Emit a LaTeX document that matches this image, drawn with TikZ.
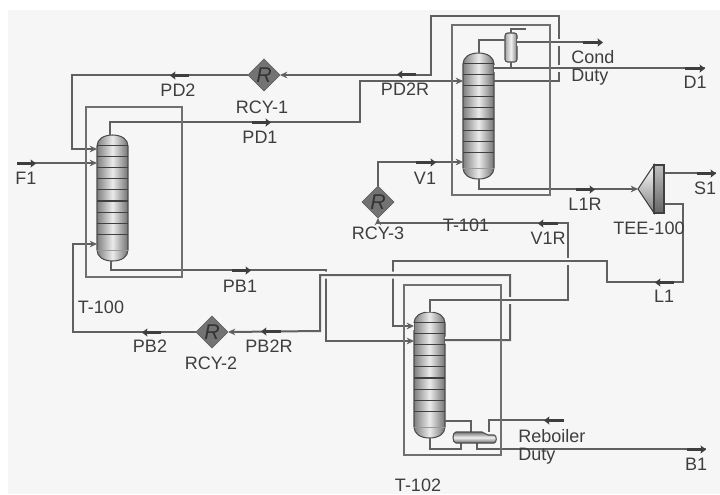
\documentclass[tikz,border=0pt]{standalone}
\usepackage{fontspec}
\setmainfont{Liberation Sans}
\usetikzlibrary{arrows.meta, shapes.geometric}
\definecolor{paper}{RGB}{246,246,246}
\definecolor{pipe}{RGB}{96,96,96}
\definecolor{inkgray}{RGB}{62,62,62}

\begin{document}
\begin{tikzpicture}[
    x=0.75pt, y=-0.75pt,
    font=\fontsize{13.5}{13.5}\selectfont,
    stream/.style={draw=pipe, line width=1.5pt},
    feed/.style={stream, -{Stealth[length=5.5pt, width=5pt]}},
    halo/.style={preaction={draw=paper, line width=5.25pt, -}},
    flowtag/.style={draw=inkgray, line width=2.2pt, -{Stealth[length=4pt, width=6pt, inset=0.5pt]}},
    wrapbox/.style={draw=pipe!90, line width=1.5pt},
    tray/.style={draw=black!75, line width=0.8pt},
    hull/.style={draw=black!70, line width=0.8pt, left color=black!50, right color=black!55, middle color=black!8},
    towernode/.style={inner sep=0pt, outer sep=0pt, minimum width=23.25pt, minimum height=94.5pt},
    rcy/.style={diamond, aspect=1, draw=black!65, fill=black!55, inner sep=0pt, minimum width=24pt, minimum height=24pt,
                outer sep=0pt, label={[font=\fontsize{16}{16}\selectfont\itshape, text=black!80, inner sep=0pt]center:R}},
    lbl/.style={text=inkgray, inner sep=0pt},
  ]
    \path[use as bounding box, fill=white] (0,0) rectangle (720,494);
    \fill[paper] (8,10) rectangle (720,494);

    \foreach \tname/\tx/\ty in {t100/97/135, t101/463/53, t102/414/312} {
      \begin{scope}[shift={(\tx,\ty)}]
        \path[hull] (0,11) .. controls (0,4) and (7,0) .. (15.5,0) .. controls (24,0) and (31,4) .. (31,11)
          -- (31,115) .. controls (31,122) and (24,126) .. (15.5,126) .. controls (7,126) and (0,122) .. (0,115) -- cycle;
        \foreach \k in {0,...,8} \draw[tray] (0,{10.5+11.1*\k}) -- (31,{10.5+11.1*\k});
        \draw[black!40, line width=0.4pt] (0,115) -- (31,115);
        \node[towernode] (\tname) at (15.5,63) {};
      \end{scope}
    }

    \node[rcy] (rcy1) at (264,75) {};
    \node[rcy] (rcy2) at (212,332) {};
    \node[rcy] (rcy3) at (378,202) {};
    \node[draw=black!70, line width=0.8pt, rounded corners=2pt, left color=black!35, right color=black!50, middle color=black!5,
          inner sep=0pt, outer sep=0pt, minimum width=9pt, minimum height=21.75pt] (cond) at (511,47.5) {};
    \node[inner sep=0pt, outer sep=0pt, minimum width=19.5pt, minimum height=36pt] (tee) at (651,189) {};
    \node[inner sep=0pt, outer sep=0pt, minimum width=33pt, minimum height=8.25pt] (reb) at (475,437.5) {};

    \foreach \tagname/\xa/\xb/\ya in {pdtwo/189/170/75, pdtwor/416/397/74, pdone/252/271/122, fone/17/36/163,
        vone/416/436/162, lonr/576/595/189, cdt/583/603/42, done/685/705/68, sone/697/716/173, vonr/558/538/223,
        lone/674/655/282, pbone/232/251/270, pbtwor/281/261/331, pbtwo/161/142/332, rdt/564/544/420, bone/687/706/449} {
      \coordinate (\tagname a) at (\xa,\ya);
      \coordinate (\tagname b) at (\xb,\ya);
    }
    \coordinate (vsplit) at (540,300);
    \coordinate (ventend) at (526,29);

    \draw[feed] (fonea) -- (t100.west |- 0,163);
    \draw[feed] (110,0 |- t100.north) |- (360,122) |- (t101.west |- 0,81);
    \draw[feed] (rcy1.west) -- (72,75) |- (t100.west |- 0,149);
    \draw[feed] (t101.east |- 0,81) -- (559,81) -- (559,16) -- (431,16) -- (431,75) -- (rcy1.east);
    \draw[feed] (rcy3.north) |- (t101.west |- 0,162);
    \draw[feed] (vsplit) -- (568,300) -- (568,223) -- (378,223) -- (rcy3.south);
    \draw[feed] (t101.south) |- (tee.west);
    \draw[stream] (tee.east |- 0,173) -- (soneb);
    \draw[feed] (111,0 |- t100.south) |- (326,270) |- (t102.west |- 0,341);
    \draw[feed, halo] (tee.east |- 0,204) -- (683,204) -- (683,282) -- (607,282) -- (607,261) -- (393,261) |- (t102.west |- 0,326);
    \draw[feed, halo] (t102.east |- 0,340) -- (510,340) -- (510,275) -- (320,275) -- (320,331) -- (rcy2.east);
    \draw[feed] (rcy2.west) -- (73,332) |- (t100.west |- 0,244);
    \draw[stream, halo] (t102.north) |- (vsplit);
    \draw[stream, halo] (cond.east |- 0,42) -- (cdta);
    \draw[stream, halo] (t101.east |- 0,68) -- (doneb);
    \draw[stream] (t101.north) |- (cond.west |- 0,40);
    \draw[stream] (cond.north) |- (ventend);
    \draw[stream] (cond.south) -- (cond.south |- 0,68);
    \draw[stream] (t102.east |- 0,421) -| (471,0 |- reb.north);
    \draw[stream] (t102.south) |- (461,449) -- (461,0 |- reb.south);
    \draw[stream] (477,0 |- reb.south) |- (boneb);
    \draw[stream] (rdta) -| (489,0 |- reb.north);

    \draw[draw=black!70, line width=0.8pt, top color=black!55, bottom color=black!60, middle color=black!5]
      (456,432) -- (482,432) -- (488,435) -- (494,435) .. controls (497,435) and (497,443) .. (494,443)
      -- (456,443) .. controls (452,443) and (452,432) .. (456,432) -- cycle;
    \draw[draw=black!75, line width=0.8pt, top color=white, bottom color=black!50] (tee.west) -- (654,165) -- (654,213) -- cycle;
    \draw[draw=black!75, line width=0.8pt, top color=black!25, bottom color=black!60] (654,165) rectangle (664,213);

    \foreach \tagname in {pdtwo, pdtwor, pdone, fone, vone, lonr, cdt, done, sone, vonr, lone, pbone, pbtwor, pbtwo, rdt, bone}
      \draw[flowtag] ([yshift=-0.375pt]\tagname a) -- ([yshift=-0.375pt]\tagname b);

    \foreach \xa/\ya/\xb/\yb in {86/107/182/277, 452/25/550/195, 404/285/501/455}
      \draw[wrapbox] (\xa,\ya) rectangle (\xb,\yb);

    \foreach \lname/\lx/\ly/\ltext in {lf/26/178/F1, lpdb/178/90/PD2, lrcya/262/107/RCY-1, lpda/260/137/PD1, lpdc/405/89/PD2R,
        ldone/695/82/D1, lvone/425/178/V1, lrcyc/378/233/RCY-3, ltb/466/225/T-101, lvr/548/238/V1R, llr/585/204/L1R,
        lsone/705/188/S1, lteeh/649/228/TEE-100, llone/664/296/L1, lpbone/240/286/PB1, lta/101/307/T-100, lpbtwo/150/346/PB2,
        lpbr/269/346/PB2R, lrcyb/211/363/RCY-2, lbone/696/464/B1, ltc/418/485/T-102}
      \node[lbl] (\lname) at (\lx,\ly) {\ltext};
    \node[lbl, align=left, anchor=west] (lcond) at (571,68) {Cond\\Duty};
    \node[lbl, align=left, anchor=west] (lreb) at (518,447) {Reboiler\\Duty};
  \end{tikzpicture}
\end{document}
